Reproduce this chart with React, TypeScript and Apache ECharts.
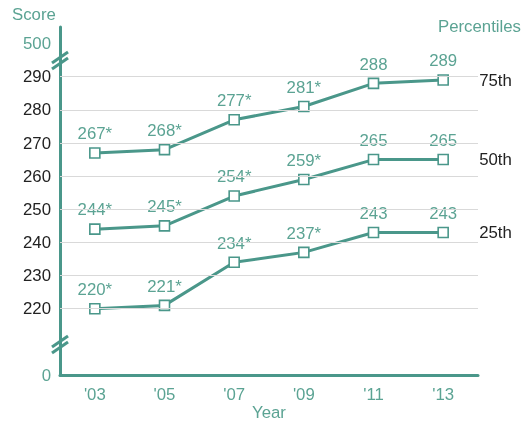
import React, { useEffect, useRef } from "react";
import * as echarts from "echarts";

const years = ["'03", "'05", "'07", "'09", "'11", "'13"];
const p75 = [267, 268, 277, 281, 288, 289];
const p50 = [244, 245, 254, 259, 265, 265];
const p25 = [220, 221, 234, 237, 243, 243];
const sig75 = [true, true, true, true, false, false];
const sig50 = [true, true, true, true, false, false];
const sig25 = [true, true, true, true, false, false];
const gridValues = [220, 230, 240, 250, 260, 270, 280, 290];

const TEAL = "#4a978a";
const TEAL_TEXT = "#5ba393";
const FONT = "'Liberation Sans', Arial, sans-serif";
const FS = 16.8;

export default function App() {
  const ref = useRef<HTMLDivElement>(null);
  useEffect(() => {
    document.body.style.margin = "0";
    document.documentElement.style.overflow = "hidden";
    document.body.style.overflow = "hidden";
    const chart = echarts.init(ref.current!, null, { renderer: "svg" });
    const mk = (name: string, data: number[], sig: boolean[]) => ({
      name,
      type: "line",
      data,
      symbol: "rect",
      symbolSize: 10,
      lineStyle: { color: TEAL, width: 3 },
      itemStyle: { color: "#fff", borderColor: TEAL, borderWidth: 1.6 },
      label: {
        show: true,
        position: "top",
        distance: 5,
        color: TEAL_TEXT,
        fontSize: FS,
        fontFamily: FONT,
        formatter: (p: any) => p.value + (sig[p.dataIndex] ? "*" : ""),
      },
      endLabel: {
        show: true,
        formatter: "{a}",
        color: "#222",
        fontSize: FS,
        fontFamily: FONT,
        distance: 36,
      },
      z: 3,
    });
    const brk = (cy: number) => [
      {
        type: "line",
        shape: { x1: 52, y1: cy + 2, x2: 68, y2: cy - 9 },
        style: { stroke: TEAL, lineWidth: 3 },
        z: 10,
      },
      {
        type: "line",
        shape: { x1: 52, y1: cy + 8, x2: 68, y2: cy - 3 },
        style: { stroke: TEAL, lineWidth: 3 },
        z: 10,
      },
    ];
    chart.setOption({
      animation: false,
      textStyle: { fontFamily: FONT },
      grid: { left: 60, top: 27, width: 418, height: 348, outerBoundsMode: "none", containLabel: false },
      xAxis: {
        type: "category",
        data: years,
        boundaryGap: true,
        axisLine: { lineStyle: { color: TEAL, width: 3 } },
        axisTick: { alignWithLabel: true, length: 7, lineStyle: { color: TEAL, width: 2 } },
        axisLabel: { color: TEAL_TEXT, fontSize: FS, fontFamily: FONT, margin: 11 },
      },
      yAxis: {
        type: "value",
        min: 200,
        max: 305,
        interval: 10,
        axisLine: { show: true, lineStyle: { color: TEAL, width: 3 } },
        axisTick: { show: false },
        splitLine: { show: false },
        axisLabel: {
          color: "#222",
          fontSize: FS,
          fontFamily: FONT,
          margin: 9,
          showMaxLabel: false,
          formatter: (v: number) =>
            v === 200 ? "{t|0}" : v === 300 ? "{t|500}" : v >= 220 && v <= 290 ? String(v) : "",
          rich: { t: { color: TEAL_TEXT, fontSize: FS, fontFamily: FONT } },
        },
      },
      series: [
        {
          type: "line",
          data: [],
          silent: true,
          markLine: {
            silent: true,
            symbol: "none",
            label: { show: false },
            lineStyle: { color: "#d9d9d9", width: 1, type: "solid" },
            data: gridValues.map((v) => ({ yAxis: v })),
          },
          z: 1,
        },
        mk("75th", p75, sig75),
        mk("50th", p50, sig50),
        mk("25th", p25, sig25),
      ],
      graphic: [
        {
          type: "text",
          left: 12,
          top: 6,
          style: { text: "Score", fill: TEAL_TEXT, fontSize: FS, fontFamily: FONT },
        },
        {
          type: "text",
          right: 2,
          top: 18,
          style: { text: "Percentiles", fill: TEAL_TEXT, fontSize: FS, fontFamily: FONT },
        },
        {
          type: "text",
          x: 269,
          y: 412,
          style: {
            text: "Year",
            fill: TEAL_TEXT,
            fontSize: FS,
            fontFamily: FONT,
            align: "center",
            verticalAlign: "middle",
          },
        },
        ...brk(61),
        ...brk(345),
      ],
    });
    return () => chart.dispose();
  }, []);
  return (
    <div
      ref={ref}
      style={{ position: "fixed", left: 0, top: 0, width: 523, height: 423 }}
    />
  );
}
